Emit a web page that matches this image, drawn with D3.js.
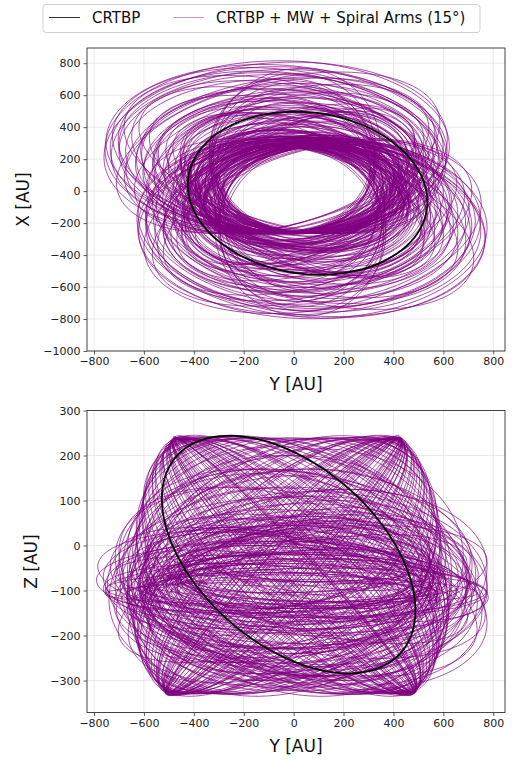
<!DOCTYPE html>
<html>
<head>
<meta charset="utf-8">
<script src="https://cdn.jsdelivr.net/npm/d3@7"></script>
<style>
  body { margin: 0; background: #fff; }
  svg { font-family: "DejaVu Sans", sans-serif; }
</style>
</head>
<body>
<div id="chart"></div>
<script>
// each loop of the orbit: [centre along Y, centre along the vertical axis, Y amplitude, vertical amplitude, phase (deg)]
const xTicks = [-800, -600, -400, -200, 0, 200, 400, 600, 800];
const topYTicks = [-1000, -800, -600, -400, -200, 0, 200, 400, 600, 800];
const bottomYTicks = [-300, -200, -100, 0, 100, 200, 300];

const topBlack = [[56, -13, 480, 510, 96]];
const bottomBlack = [[-20, -20, 508, 264, 118]];

// top panel (Y, X): loops drifting towards upper left ...
const topDriftUp = [
  [16, 14, 320, 278, 90], [5, 22, 331, 287, 96], [18, 27, 339, 292, 84], [10, 32, 352, 297, 100],
  [0, 40, 358, 305, 88], [12, 49, 365, 314, 93], [3, 54, 385, 319, 81], [-8, 59, 380, 324, 97],
  [6, 68, 398, 333, 89], [-4, 76, 415, 341, 85], [-12, 81, 410, 346, 99], [2, 89, 429, 354, 92],
  [-11, 97, 445, 362, 83], [-20, 108, 456, 373, 95], [-6, 116, 462, 381, 87], [-20, 124, 485, 389, 101],
  [-28, 135, 495, 400, 90], [-16, 143, 500, 408, 84], [-34, 151, 525, 416, 96], [-32, 162, 534, 427, 88],
  [-24, 170, 540, 435, 93], [-42, 178, 562, 443, 82], [-40, 189, 573, 454, 98], [-50, 197, 580, 462, 90],
  [-38, 205, 596, 470, 86], [-55, 216, 618, 481, 94], [-48, 224, 624, 489, 80], [-60, 232, 640, 497, 92],
  [-52, 243, 651, 508, 99], [-66, 248, 665, 513, 87], [-60, 257, 675, 521, 91], [-70, 262, 682, 530, 95],
  [-66, 270, 690, 545, 89], [-58, 238, 642, 503, 96], [-30, 184, 570, 449, 85], [-22, 130, 480, 395, 93],
  [2, 81, 420, 348, 78], [14, 38, 350, 302, 102], [20, 5, 305, 270, 86], [-26, 157, 522, 421, 100],
  [10, 8, 312, 272, 78], [22, 16, 325, 281, 102], [8, 24, 336, 290, 80], [15, 30, 343, 294, 100],
  [4, 35, 350, 300, 76], [12, 43, 362, 308, 104], [-2, 51, 372, 316, 78], [9, 57, 378, 322, 100],
  [-5, 65, 394, 330, 104], [4, 70, 400, 336, 80], [-8, 78, 416, 343, 102], [-2, 86, 425, 352, 78],
  [-14, 94, 438, 360, 104], [-8, 103, 448, 368, 74], [-18, 113, 466, 378, 114], [-10, 121, 472, 386, 78],
  [-24, 132, 488, 397, 108], [-20, 140, 505, 405, 62], [-30, 148, 512, 413, 102], [-28, 159, 530, 424, 80],
  [-36, 167, 542, 432, 112], [-30, 175, 552, 440, 70], [-44, 186, 565, 451, 96], [-38, 194, 582, 459, 116],
  [-48, 202, 590, 467, 66], [-44, 213, 605, 478, 106], [-56, 221, 622, 486, 74], [-50, 229, 630, 494, 110],
  [-62, 240, 648, 505, 68], [-58, 254, 668, 518, 100], [-72, 267, 688, 540, 84]
];
// ... and towards lower right
const topDriftDown = [
  [32, -12, 320, 285, 92], [40, -18, 332, 294, 86], [26, -23, 340, 300, 97], [36, -28, 355, 306, 83],
  [44, -35, 360, 315, 91], [30, -41, 368, 324, 99], [38, -46, 388, 330, 87], [50, -51, 383, 336, 94],
  [34, -58, 400, 345, 80], [46, -64, 418, 353, 96], [54, -69, 415, 359, 88], [38, -76, 432, 368, 101],
  [52, -83, 448, 377, 84], [40, -92, 460, 389, 93], [58, -99, 466, 398, 89], [44, -106, 490, 407, 97],
  [50, -115, 500, 419, 82], [62, -122, 506, 428, 92], [46, -129, 530, 437, 86], [56, -138, 540, 449, 99],
  [66, -145, 548, 458, 90], [50, -152, 570, 467, 84], [60, -161, 580, 479, 95], [70, -168, 588, 488, 87],
  [54, -175, 604, 496, 100], [64, -184, 625, 508, 91], [74, -191, 630, 517, 83], [58, -198, 650, 526, 96],
  [68, -207, 660, 538, 88], [78, -212, 672, 544, 94], [64, -219, 685, 553, 86], [72, -223, 695, 562, 98],
  [75, -230, 700, 568, 90], [62, -202, 652, 532, 92], [52, -156, 575, 473, 80], [56, -110, 492, 413, 95],
  [36, -69, 422, 359, 104], [40, -32, 356, 312, 78], [28, -5, 308, 276, 94], [58, -133, 532, 443, 87],
  [30, -7, 312, 279, 102], [36, -14, 324, 288, 78], [28, -21, 336, 297, 104], [42, -25, 345, 303, 80],
  [32, -30, 352, 309, 104], [46, -37, 362, 318, 76], [34, -44, 378, 327, 102], [44, -48, 382, 333, 76],
  [38, -55, 398, 342, 78], [50, -60, 404, 347, 104], [40, -67, 414, 356, 80], [52, -74, 430, 365, 100],
  [42, -81, 438, 374, 64], [56, -87, 455, 383, 112], [46, -97, 466, 395, 78], [60, -104, 478, 404, 100],
  [48, -113, 494, 416, 70], [58, -120, 508, 425, 118], [50, -127, 518, 434, 66], [64, -136, 536, 446, 108],
  [54, -143, 546, 455, 74], [68, -150, 560, 464, 102], [56, -159, 578, 476, 80], [66, -166, 588, 485, 64],
  [58, -173, 600, 494, 112], [70, -182, 615, 505, 72], [62, -189, 628, 514, 104], [74, -196, 640, 523, 68],
  [66, -205, 656, 535, 114], [76, -216, 676, 550, 76], [70, -228, 698, 566, 96]
];
// narrow loops that shape the lens-like hole
const topLens = [
  [30, -120, 310, 390, 90], [20, -150, 315, 420, 86], [40, -180, 322, 452, 94], [25, -210, 328, 480, 88],
  [35, -240, 335, 510, 92], [15, -135, 312, 405, 96], [45, -165, 320, 440, 84], [28, -195, 326, 468, 90],
  [38, -225, 332, 498, 87], [22, -255, 338, 528, 93],
  [0, 120, 310, 375, 90], [10, 150, 316, 405, 94], [-10, 180, 322, 435, 86], [5, 210, 328, 465, 92],
  [-5, 240, 334, 495, 88], [15, 135, 312, 388, 84], [-15, 165, 320, 420, 96], [2, 195, 325, 452, 90],
  [-8, 225, 330, 480, 93], [8, 255, 338, 512, 87]
];
const topInner = [
  [20, 10, 400, 340, 76], [30, -10, 410, 350, 104], [10, 20, 390, 330, 78], [40, -20, 420, 360, 102],
  [25, 0, 380, 320, 78], [15, 15, 430, 370, 102], [35, -5, 395, 335, 76], [5, 25, 415, 355, 104],
  [45, -15, 405, 345, 80], [22, 5, 440, 380, 100], [28, -25, 385, 325, 78], [12, 12, 425, 365, 102],
  [38, 0, 400, 340, 80], [18, -8, 412, 352, 104], [32, 18, 392, 332, 76], [8, -12, 435, 375, 104],
  [42, 8, 402, 342, 78], [24, -18, 418, 358, 102], [14, 22, 388, 328, 80], [34, -2, 428, 368, 100]
];
const topTilted = [
  [20, 0, 470, 500, 60], [35, -20, 490, 510, 120], [10, 20, 450, 480, 70], [50, -10, 500, 520, 110],
  [25, 30, 460, 490, 55], [40, -30, 480, 505, 125], [15, 10, 440, 470, 65], [55, -25, 510, 515, 115],
  [30, 25, 455, 495, 75], [45, -5, 485, 500, 105], [28, 5, 465, 488, 68], [38, -15, 475, 498, 112]
];

// bottom panel (Y, Z)
const bottomTiltUp = [
  [-40, -45, 466, 285, 4], [-36, -43, 470, 283, 9], [-44, -47, 468, 286, 13], [-38, -44, 474, 282, 18],
  [-42, -46, 480, 287, 23], [-35, -42, 492, 284, 28], [-46, -48, 502, 285, 33], [-39, -45, 520, 281, 38],
  [-43, -41, 538, 286, 44], [-37, -47, 560, 283, 50], [-45, -44, 578, 285, 56], [-41, -46, 595, 282, 62],
  [-34, -43, 608, 287, 68], [-48, -45, 620, 284, 74], [-40, -49, 626, 286, 80], [-36, -42, 630, 281, 86],
  [-42, -45, 469, 284, 6], [-39, -46, 472, 285, 11], [-44, -44, 476, 283, 15], [-37, -47, 482, 286, 20],
  [-41, -43, 488, 282, 25], [-45, -46, 498, 285, 31], [-38, -45, 512, 284, 36], [-43, -48, 548, 287, 47],
  [-40, -42, 586, 283, 58], [-35, -46, 614, 285, 71], [-46, -44, 467, 286, 2], [-39, -45, 471, 283, 16],
  [-41, -44, 468, 284, 7], [-37, -46, 473, 286, 12], [-43, -43, 478, 282, 19], [-39, -47, 485, 285, 24],
  [-44, -45, 495, 283, 30], [-36, -44, 508, 287, 34], [-42, -46, 528, 284, 41], [-38, -43, 552, 286, 48],
  [-46, -47, 570, 282, 53], [-40, -45, 600, 285, 65], [-35, -44, 624, 283, 77], [-44, -42, 470, 287, 10]
];
const bottomTiltDown = [
  [0, -45, 480, 285, 176], [4, -43, 483, 283, 171], [-4, -47, 481, 286, 167], [2, -44, 488, 282, 162],
  [-2, -46, 494, 287, 157], [5, -42, 504, 284, 152], [-6, -48, 516, 285, 147], [1, -45, 532, 281, 142],
  [-3, -41, 550, 286, 136], [3, -47, 570, 283, 130], [-5, -44, 588, 285, 124], [0, -46, 602, 282, 118],
  [6, -43, 614, 287, 112], [-7, -45, 624, 284, 106], [2, -49, 630, 286, 100], [-1, -42, 634, 281, 94],
  [3, -45, 481, 284, 174], [-3, -46, 484, 285, 169], [1, -44, 490, 283, 165], [-4, -47, 492, 286, 160],
  [4, -43, 500, 282, 155], [0, -46, 510, 285, 149], [-2, -45, 524, 284, 144], [5, -48, 560, 287, 133],
  [-6, -42, 596, 283, 121], [2, -46, 620, 285, 109], [-1, -44, 480, 286, 178], [4, -45, 487, 283, 164],
  [2, -44, 482, 285, 172], [-2, -46, 486, 283, 168], [5, -43, 491, 287, 161], [-5, -47, 498, 284, 156],
  [1, -45, 507, 282, 151], [-3, -44, 520, 286, 146], [4, -46, 540, 283, 139], [-4, -43, 562, 285, 132],
  [0, -47, 580, 281, 127], [3, -45, 610, 286, 115], [-2, -44, 628, 284, 103], [6, -46, 484, 282, 170]
];
const bottomBand = [
  [10, -50, 450, 60, 90], [30, -70, 520, 90, 70], [-20, -40, 420, 40, 110], [50, -80, 560, 110, 85],
  [0, -60, 480, 75, 100], [20, -35, 400, 120, 60], [-30, -90, 500, 50, 120], [40, -55, 540, 100, 95],
  [5, -75, 460, 30, 80], [-10, -45, 430, 85, 130], [35, -65, 510, 115, 75], [15, -85, 470, 65, 105],
  [-25, -50, 440, 95, 65], [45, -40, 550, 45, 115], [25, -95, 490, 80, 88], [-5, -60, 410, 105, 140],
  [55, -70, 530, 55, 92], [-15, -80, 450, 120, 50], [30, -30, 500, 70, 125], [10, -100, 480, 40, 100],
  [20, -55, 470, 50, 80], [-5, -75, 520, 95, 100], [40, -45, 430, 70, 120], [0, -90, 560, 60, 75],
  [25, -65, 460, 110, 95], [-20, -55, 500, 35, 85], [35, -85, 540, 85, 110], [10, -40, 420, 100, 70],
  [-10, -70, 480, 55, 105], [50, -60, 510, 125, 90], [15, -95, 450, 45, 130], [-30, -65, 530, 80, 60],
  [30, -50, 490, 30, 95], [5, -80, 470, 115, 115], [45, -75, 560, 65, 85]
];
const bottomWideLeft = [
  [-70, -90, 685, 60, 80], [-85, -110, 670, 120, 100], [-60, -80, 650, 180, 70], [-90, -100, 660, 40, 95],
  [-55, -120, 630, 150, 110], [-75, -70, 640, 200, 85], [-50, -95, 615, 90, 60], [-80, -130, 655, 170, 120],
  [-65, -85, 600, 140, 75], [-45, -105, 620, 30, 90], [-95, -75, 690, 110, 105], [-58, -115, 605, 190, 65],
  [-72, -92, 645, 70, 115], [-40, -125, 590, 160, 80], [-88, -88, 675, 130, 98], [-62, -100, 625, 50, 72],
  [-78, -78, 668, 185, 88], [-48, -110, 610, 100, 125], [-68, -95, 635, 165, 55], [-83, -120, 680, 80, 108],
  [-52, -82, 598, 145, 92], [-92, -105, 662, 25, 84], [-60, -60, 640, 230, 95], [-75, -50, 620, 250, 82],
  [-55, -80, 660, 210, 105], [-85, -40, 600, 260, 88], [-65, -70, 675, 240, 78], [-70, -90, 630, 220, 110],
  [-50, -70, 600, 180, 85], [-65, -40, 580, 200, 98], [-80, -100, 640, 150, 78], [-45, -60, 620, 230, 104],
  [-90, -80, 700, 90, 92], [-58, -110, 610, 120, 88]
];
const bottomWideRight = [
  [75, -100, 700, 60, 95], [60, -80, 680, 150, 85], [85, -120, 690, 200, 105], [50, -90, 650, 40, 80],
  [70, -110, 665, 180, 115], [90, -75, 685, 120, 70], [45, -130, 630, 90, 100], [80, -85, 695, 205, 90],
  [55, -105, 640, 130, 60], [65, -95, 672, 30, 110], [40, -115, 620, 170, 75], [88, -70, 676, 100, 120],
  [58, -125, 655, 190, 88], [72, -88, 645, 70, 98], [48, -100, 660, 160, 65], [82, -110, 688, 50, 82],
  [62, -78, 635, 140, 125], [78, -92, 698, 185, 92], [52, -118, 625, 110, 78], [68, -82, 668, 210, 102],
  [42, -108, 612, 80, 86], [86, -96, 682, 155, 112], [70, -60, 660, 230, 92], [55, -50, 640, 250, 100],
  [85, -85, 690, 210, 80], [60, -45, 620, 260, 86], [80, -70, 675, 240, 108], [65, -95, 650, 220, 76],
  [60, -80, 640, 190, 88], [75, -55, 620, 210, 96], [48, -100, 660, 140, 82], [90, -65, 600, 230, 102],
  [70, -115, 710, 80, 90], [55, -90, 650, 170, 85]
];

const topLoops = [].concat(topDriftUp, topDriftDown, topLens, topInner, topTilted);
const bottomLoops = [].concat(bottomTiltUp, bottomTiltDown, bottomBand, bottomWideLeft, bottomWideRight);

const width = 522, height = 762;
const purple = "#800080";

const svg = d3.select("#chart").append("svg")
  .attr("width", width)
  .attr("height", height);

const angles = d3.range(0, 361, 3).map(a => a * Math.PI / 180);

function loopPoints(p) {
  const d = p[4] * Math.PI / 180;
  return angles.map(t => [p[0] + p[2] * Math.cos(t), p[1] + p[3] * Math.cos(t - d)]);
}

function drawPanel(cfg) {
  const x = d3.scaleLinear().domain(cfg.xDomain).range([87, 505]);
  const y = d3.scaleLinear().domain(cfg.yDomain).range([cfg.bottom, cfg.top]);

  const g = svg.append("g");

  g.append("clipPath").attr("id", cfg.id)
    .append("rect")
    .attr("x", 87).attr("y", cfg.top)
    .attr("width", 418).attr("height", cfg.bottom - cfg.top);

  // grid
  g.append("g").selectAll("line").data(xTicks).enter().append("line")
    .attr("x1", d => x(d)).attr("x2", d => x(d))
    .attr("y1", cfg.top).attr("y2", cfg.bottom)
    .attr("stroke", "#e3e3e3").attr("stroke-width", 0.8);
  g.append("g").selectAll("line").data(cfg.yTicks).enter().append("line")
    .attr("x1", 87).attr("x2", 505)
    .attr("y1", d => y(d)).attr("y2", d => y(d))
    .attr("stroke", "#e3e3e3").attr("stroke-width", 0.8);

  const line = d3.line().x(d => x(d[0])).y(d => y(d[1]));

  const plot = g.append("g").attr("clip-path", `url(#${cfg.id})`);
  plot.append("g").selectAll("path")
    .data(cfg.loops).enter().append("path")
    .attr("d", d => line(loopPoints(d)))
    .attr("fill", "none")
    .attr("stroke", purple)
    .attr("stroke-width", 0.9)
    .attr("stroke-opacity", 0.75);

  plot.append("g").selectAll("path")
    .data(cfg.black).enter().append("path")
    .attr("d", d => line(loopPoints(d)))
    .attr("fill", "none")
    .attr("stroke", "#000")
    .attr("stroke-width", 1.8);

  const xAxis = g.append("g")
    .attr("transform", `translate(0,${cfg.bottom})`)
    .call(d3.axisBottom(x).tickValues(xTicks).tickSize(3.5).tickPadding(3)
      .tickFormat(d => d < 0 ? "\u2212" + Math.abs(d) : d));
  const yAxis = g.append("g")
    .attr("transform", "translate(87,0)")
    .call(d3.axisLeft(y).tickValues(cfg.yTicks).tickSize(3.5).tickPadding(3)
      .tickFormat(d => d < 0 ? "\u2212" + Math.abs(d) : d));
  [xAxis, yAxis].forEach(a => {
    a.selectAll("text").attr("font-size", "11px").attr("fill", "#222").attr("font-family", "DejaVu Sans");
    a.selectAll("line").attr("stroke", "#333").attr("stroke-width", 0.8);
    a.select(".domain").remove();
  });

  // frame
  g.append("rect")
    .attr("x", 87).attr("y", cfg.top)
    .attr("width", 418).attr("height", cfg.bottom - cfg.top)
    .attr("fill", "none").attr("stroke", "#444").attr("stroke-width", 1);

  g.append("text")
    .attr("x", 296).attr("y", cfg.bottom + 39)
    .attr("text-anchor", "middle")
    .attr("font-size", "17px").attr("fill", "#111")
    .text("Y [AU]");
  g.append("text")
    .attr("transform", `translate(${cfg.labelX},${(cfg.top + cfg.bottom) / 2}) rotate(-90)`)
    .attr("text-anchor", "middle")
    .attr("font-size", "17px").attr("fill", "#111")
    .text(cfg.yLabel);
}

drawPanel({
  id: "clipTop", top: 48, bottom: 351,
  xDomain: [-828, 847], yDomain: [-1000, 895],
  yTicks: topYTicks, loops: topLoops, black: topBlack,
  yLabel: "X [AU]", labelX: 29
});
drawPanel({
  id: "clipBottom", top: 410.5, bottom: 712.5,
  xDomain: [-828, 847], yDomain: [-371, 300],
  yTicks: bottomYTicks, loops: bottomLoops, black: bottomBlack,
  yLabel: "Z [AU]", labelX: 37
});

// legend
const legend = svg.append("g");
legend.append("rect")
  .attr("x", 43).attr("y", 4.5).attr("width", 437).attr("height", 28)
  .attr("rx", 3).attr("fill", "#fff").attr("stroke", "#d0d0d0").attr("stroke-width", 1);
const legendItems = [
  { label: "CRTBP", color: "#000", opacity: 0.8, lx: 49, tx: 92 },
  { label: "CRTBP + MW + Spiral Arms (15\u00b0)", color: purple, opacity: 0.4, lx: 173, tx: 216 }
];
legend.selectAll("line").data(legendItems).enter().append("line")
  .attr("x1", d => d.lx).attr("x2", d => d.lx + 31)
  .attr("y1", 17.5).attr("y2", 17.5)
  .attr("stroke", d => d.color).attr("stroke-opacity", d => d.opacity).attr("stroke-width", 1);
legend.selectAll("text").data(legendItems).enter().append("text")
  .attr("x", d => d.tx).attr("y", 23)
  .attr("font-size", "15px").attr("fill", "#111")
  .text(d => d.label);
</script>
</body>
</html>
